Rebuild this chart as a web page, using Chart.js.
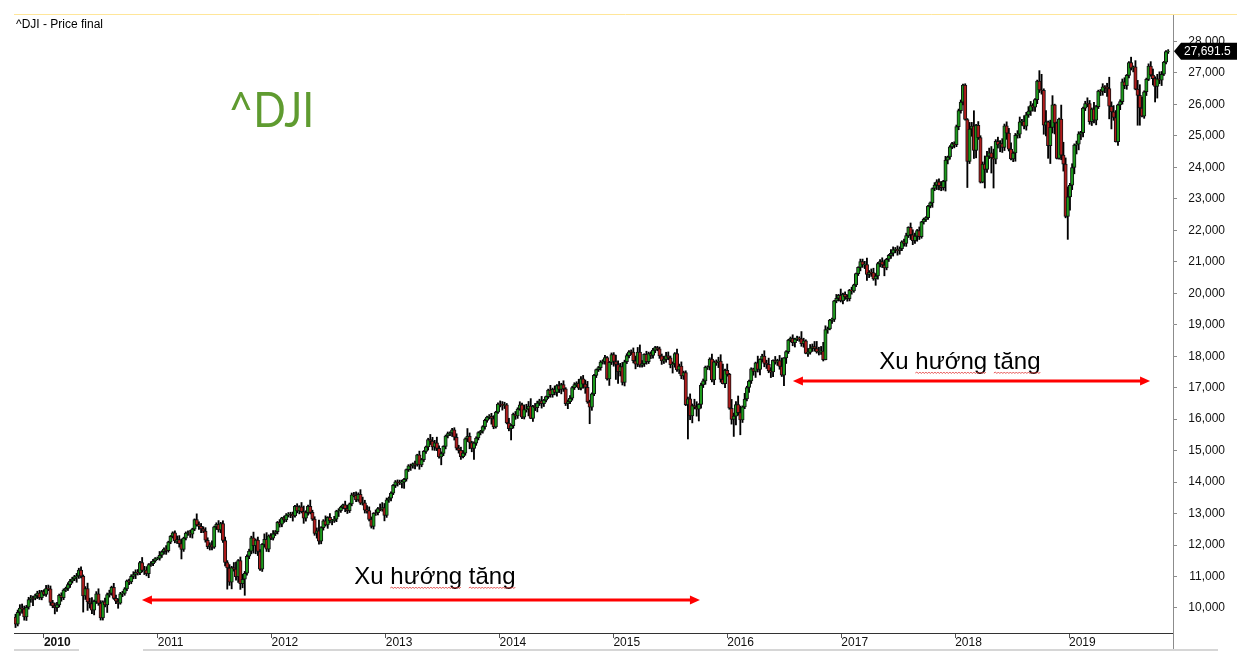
<!DOCTYPE html>
<html>
<head>
<meta charset="utf-8">
<title>^DJI - Price final</title>
<script src="https://cdn.jsdelivr.net/npm/chart.js@4.4.1/dist/chart.umd.min.js"></script>
<style>
  html, body { margin: 0; padding: 0; background: #fff; }
  #wrap { width: 1237px; height: 670px; position: relative; }
</style>
</head>
<body>
<div id="wrap"><canvas id="djiChart"></canvas></div>
<script>
// --- DONNÉES : ^DJI hebdomadaire (clôture du vendredi), à partir du 2 oct. 2009 ---
const START_DATE = Date.UTC(2009, 9, 2);
const firstOpen = 9712;

const c2009 = [9488, 9865, 9996, 9972, 9713, 10023, 10270, 10318, 10310, 10389, 10472, 10329, 10520];
const c2010 = [10428, 10618, 10610, 10173, 10067, 10012, 10099, 10403, 10325, 10567, 10625, 10742, 10851,
  10927, 10997, 11019, 11204, 11009, 10380, 10620, 10193, 10137, 9931, 10212, 10450, 10144,
  9686, 10198, 10097, 10425, 10466, 10654, 10303, 10214, 10150, 10448, 10463, 10608, 10861,
  10830, 11006, 11063, 11133, 11118, 11445, 11193, 11204, 11092, 11382, 11411, 11492, 11573, 11578];
const c2011 = [11675, 11787, 11872, 11824, 12092, 12273, 12391, 12130, 12170, 12044, 11858, 12221,
  12377, 12380, 12342, 12505, 12811, 12639, 12596, 12513, 12442, 12151, 11952, 12004, 11934,
  12582, 12657, 12480, 12681, 12143, 11445, 11269, 10818, 11285, 11240, 10993, 11510, 10771, 10913,
  11103, 11645, 11809, 12231, 11983, 12154, 11796, 11231, 12020, 12184, 11866, 12294, 12218];
const c2012 = [12360, 12422, 12720, 12660, 12862, 12801, 12950, 12983, 12978, 12922, 13233, 13081, 13212,
  13060, 12850, 13029, 13229, 13038, 12821, 12369, 12455, 12119, 12554, 12767, 12640, 12880,
  12772, 12777, 12822, 13076, 13096, 13207, 13275, 13158, 13091, 13306, 13593, 13579, 13437,
  13610, 13328, 13343, 13107, 13093, 12815, 12588, 13010, 13026, 13155, 13135, 13190, 12938];
const c2013 = [13435, 13488, 13650, 13896, 14010, 13993, 13982, 14001, 14090, 14397, 14515, 14512, 14579,
  14565, 14865, 14547, 14712, 14974, 15118, 15354, 15303, 15116, 15248, 15070, 14799, 14910,
  15135, 15464, 15543, 15559, 15658, 15426, 15081, 15010, 14810, 14922, 15376, 15452, 15258,
  15073, 15237, 15400, 15570, 15615, 15762, 15962, 16065, 16086, 16020, 15755, 16221, 16479];
const c2014 = [16469, 16437, 16458, 15879, 15699, 15794, 16154, 16103, 16322, 16453, 16065, 16303, 16323,
  16412, 16027, 16409, 16361, 16513, 16583, 16491, 16606, 16717, 16924, 16776, 16947, 16851,
  17068, 16944, 17100, 16961, 16493, 16553, 16663, 17001, 17098, 17138, 16988, 17280, 17113,
  17010, 16544, 16380, 16805, 17391, 17574, 17635, 17810, 17828, 17959, 17281, 17805, 18054];
const c2015 = [17833, 17737, 17511, 17673, 17165, 17825, 18019, 18140, 18133, 17856, 17749, 18128, 17713,
  17763, 18058, 17826, 18080, 18024, 18191, 18272, 18232, 18011, 17849, 17898, 18015, 17947,
  17730, 17760, 18086, 17568, 17690, 17373, 17477, 16460, 16643, 16102, 16433, 16385, 16315,
  16472, 17084, 17216, 17647, 17664, 17910, 17245, 17824, 17798, 17848, 17265, 17128, 17553];
const c2016 = [17425, 16347, 15988, 16094, 16466, 16205, 15974, 16392, 16640, 17007, 17213, 17602, 17515,
  17793, 17577, 17898, 18004, 17774, 17740, 17535, 17501, 17873, 17807, 17865, 17675, 17400,
  17949, 18147, 18516, 18571, 18432, 18544, 18577, 18553, 18395, 18492, 18086, 18124, 18262, 18308,
  18240, 18138, 18146, 18161, 17888, 18847, 18868, 19152, 19171, 19757, 19843, 19934, 19763];
const c2017 = [19964, 19886, 19827, 20094, 20071, 20269, 20624, 20822, 21006, 20903, 20915, 20597, 20663,
  20656, 20453, 20548, 20941, 21007, 20897, 20805, 21080, 21206, 21272, 21384, 21395, 21350,
  21414, 21638, 21580, 21830, 22093, 21858, 21675, 21814, 21988, 21798, 22268, 22350, 22405,
  22774, 22871, 23329, 23435, 23539, 23422, 23358, 23558, 24231, 24329, 24652, 24754, 24719];
const c2018 = [25296, 25803, 26072, 26617, 25521, 24191, 25219, 25310, 24538, 25336, 24947, 23533, 24103,
  23933, 24360, 24463, 24311, 24263, 24831, 24715, 24753, 24635, 25317, 25090, 24581, 24271,
  24456, 25019, 25058, 25451, 25463, 25313, 25669, 25790, 25965, 25917, 26155, 26744, 26458,
  26447, 25340, 25444, 24688, 25271, 25989, 25413, 24286, 25538, 24389, 24101, 22445, 23062];
const c2019 = [23433, 23996, 24706, 24737, 25064, 25106, 25883, 26031, 26026, 25450, 25849, 25502, 25929,
  26425, 26412, 26559, 26543, 26505, 25942, 25764, 25586, 24815, 25984, 26090, 26719, 26600,
  26922, 27332, 27154, 27192, 26485, 26287, 25886, 25629, 26403, 26797, 27220, 26935, 26820,
  26573, 26817, 26770, 26958, 27347, 27681, 27691.5];

// Mèches : points au-dessus du corps (haut) et en dessous (bas)
const wickUp = [
  90,70,110,130,90,60,70,80,60,50,60,90,40,
  60,100,110,90,70,90,80,40,80,40,40,60,60,50,40,80,60,100,40,60,170,120,190,40,70,160,90,30,120,50,100,40,130,110,80,50,70,40,30,60,50,90,80,90,40,160,120,110,30,60,50,30,40,
  120,30,40,110,30,30,30,60,120,130,150,30,40,70,90,30,20,180,100,90,70,110,80,70,130,20,50,120,40,90,110,60,110,40,160,220,30,110,160,60,40,60,50,180,40,100,60,30,170,210,30,70,
  100,40,30,90,20,60,50,50,60,70,30,80,40,140,180,60,40,200,70,80,90,340,30,40,160,20,120,40,90,30,60,30,30,120,110,30,60,80,110,50,150,180,80,150,120,80,20,90,40,150,160,130,
  60,40,40,30,40,60,70,60,30,20,40,60,30,90,20,120,40,30,30,40,160,120,80,180,80,50,20,30,50,40,50,70,110,90,100,80,30,250,110,40,40,40,30,30,30,40,30,60,100,90,30,40,
  100,90,80,40,150,40,40,90,40,100,60,150,150,150,240,30,90,60,50,140,20,20,30,150,40,110,30,130,40,120,40,60,90,40,60,50,130,70,110,130,190,60,30,30,20,40,50,60,70,30,30,50,
  60,200,120,100,130,50,60,40,60,130,150,150,230,100,20,100,50,60,60,40,40,60,60,100,110,120,60,60,30,140,60,130,50,60,60,160,50,200,170,20,60,60,40,30,40,160,30,60,120,200,485,40,
  200,30,280,100,90,270,210,30,180,40,30,30,20,20,210,20,60,170,100,200,100,10,120,40,160,270,10,30,20,40,110,30,60,40,230,80,30,120,110,80,160,230,140,150,280,120,60,20,40,20,120,30,200,
  40,80,70,30,100,20,20,20,80,80,100,200,60,110,140,80,40,60,120,160,30,30,120,90,60,110,60,30,80,80,20,140,160,100,40,120,20,40,30,20,30,20,80,70,100,130,30,120,30,40,40,60,
  50,50,70,30,40,30,210,120,490,30,120,60,70,260,150,150,200,270,50,130,100,160,60,130,150,200,40,60,110,150,60,180,80,140,130,60,30,30,330,500,50,360,30,230,290,20,30,30,442,410,200,320,
  60,120,40,100,70,40,30,70,180,100,40,220,40,30,50,100,40,130,360,140,200,220,30,60,90,130,30,30,170,30,200,280,340,350,30,40,70,140,190,60,140,220,90,20,30,50
];
const wickDn = [
  110,60,100,140,100,110,60,90,240,50,90,60,70,
  40,60,60,90,60,200,120,70,110,60,50,70,90,60,60,180,80,50,510,110,270,140,110,150,70,60,70,70,60,240,80,60,30,80,160,30,90,60,60,90,60,80,130,70,60,50,130,70,130,60,70,40,40,
  60,70,80,120,50,50,50,60,80,110,300,60,60,70,100,120,50,40,100,120,50,60,70,110,90,40,90,70,90,60,110,670,100,210,70,110,180,180,130,510,60,80,90,240,260,130,40,70,90,70,80,50,
  60,60,70,90,80,80,60,60,110,160,40,60,90,40,160,90,80,50,40,60,150,90,80,80,40,110,70,130,60,80,170,60,60,100,90,60,60,50,60,50,40,60,90,80,50,50,80,70,70,50,60,170,
  60,80,90,50,70,120,60,170,200,60,60,140,70,150,60,140,60,60,60,100,110,100,110,70,40,250,70,80,60,70,110,90,60,90,90,40,70,90,200,110,350,70,60,70,60,80,60,60,180,60,40,40,
  80,150,100,30,70,360,80,110,80,40,50,60,80,220,10,100,90,130,80,140,90,60,60,80,80,80,120,100,140,80,60,160,60,60,60,70,50,60,130,190,40,525,100,60,70,60,80,60,80,40,210,70,
  150,475,375,140,80,110,60,70,80,70,150,80,60,60,90,80,60,100,90,80,60,80,110,80,90,60,100,265,110,50,120,90,110,30,1090,120,220,60,220,373,120,80,110,70,100,60,150,90,160,90,10,130,
  60,33,146,537,280,80,471,80,60,60,160,80,120,190,80,170,80,110,130,60,180,150,60,100,90,45,337,180,60,60,100,140,50,80,80,110,10,94,60,110,80,40,100,90,40,5,120,30,110,70,60,90,40,
  100,80,80,70,100,40,60,60,110,80,120,190,100,120,40,200,100,100,80,250,60,70,100,90,100,140,110,60,80,90,60,150,130,90,160,90,50,70,70,60,60,140,70,140,140,100,80,310,120,70,60,100,
  60,100,80,90,20,831,70,230,256,235,60,30,24,588,90,80,490,919,150,100,220,160,100,200,60,30,90,260,90,120,120,90,130,80,140,130,140,130,80,120,288,340,400,566,180,350,18,26,146,220,48,732,
  424,140,200,280,180,180,140,80,100,80,120,90,150,60,130,120,170,250,400,542,90,10,120,150,80,100,120,80,60,120,20,948,547,28,70,120,40,40,200,495,371,110,170,40,60,60
];

const yTicks = [10000, 11000, 12000, 13000, 14000, 15000, 16000, 17000, 18000, 19000,
  20000, 21000, 22000, 23000, 24000, 25000, 26000, 27000, 28000];
const yearLabels = ['2010', '2011', '2012', '2013', '2014', '2015', '2016', '2017', '2018', '2019'];

// --- Construction des bougies ---
const UP_COLOR = '#1c9a1c';
const DOWN_COLOR = '#b01c1c';
const closes = [].concat(c2009, c2010, c2011, c2012, c2013, c2014, c2015, c2016, c2017, c2018, c2019);
const opens = closes.map((c, i) => (i === 0 ? firstOpen : closes[i - 1]));
const bodies = closes.map((c, i) => ({ x: i, y: [opens[i], c] }));
const wicks = closes.map((c, i) => ({
  x: i,
  y: [Math.min(opens[i], c) - (wickDn[i] || 0), Math.max(opens[i], c) + (wickUp[i] || 0)]
}));
const bodyColors = closes.map((c, i) => (c >= opens[i] ? UP_COLOR : DOWN_COLOR));

// position (en semaines) du 1er janvier de chaque année
const yearTickValues = yearLabels.map(y => (Date.UTC(+y, 0, 1) - START_DATE) / 864e5 / 7);

// Annotations "Xu hướng tăng" (x = semaine, y = points)
const trends = [
  { from: 57.9, to: 313.5, level: 10253, textAt: 192.1, textLevel: 11016 },
  { from: 356.1, to: 519.7, level: 17212, textAt: 432.6, textLevel: 17847 }
];

function drawArrow(ctx, x0, x1, y) {
  ctx.strokeStyle = '#ff0000';
  ctx.fillStyle = '#ff0000';
  ctx.lineWidth = 3;
  ctx.beginPath();
  ctx.moveTo(x0 + 8, y);
  ctx.lineTo(x1 - 8, y);
  ctx.stroke();
  ctx.beginPath();
  ctx.moveTo(x0, y); ctx.lineTo(x0 + 10, y - 4.5); ctx.lineTo(x0 + 10, y + 4.5); ctx.closePath();
  ctx.fill();
  ctx.beginPath();
  ctx.moveTo(x1, y); ctx.lineTo(x1 - 10, y - 4.5); ctx.lineTo(x1 - 10, y + 4.5); ctx.closePath();
  ctx.fill();
}

function drawWavy(ctx, x0, x1, y) {
  ctx.strokeStyle = '#e03030';
  ctx.lineWidth = 0.8;
  ctx.beginPath();
  let up = true;
  ctx.moveTo(x0, y);
  for (let x = x0 + 1.5; x <= x1; x += 1.5) {
    ctx.lineTo(x, up ? y - 1 : y + 0.5);
    up = !up;
  }
  ctx.stroke();
}

const decorPlugin = {
  id: 'decor',
  afterDraw(chart) {
    const ctx = chart.ctx;
    const xs = chart.scales.x;
    const ys = chart.scales.y;
    const area = chart.chartArea;
    ctx.save();

    // ligne jaune en haut
    ctx.strokeStyle = '#ffe699';
    ctx.lineWidth = 1;
    ctx.beginPath(); ctx.moveTo(area.left, 14.5); ctx.lineTo(chart.width, 14.5); ctx.stroke();

    // prolongement de l'axe vertical + barre grise en bas
    ctx.strokeStyle = '#8c8c8c';
    ctx.beginPath(); ctx.moveTo(area.right + 0.5, area.bottom); ctx.lineTo(area.right + 0.5, 649); ctx.stroke();
    ctx.strokeStyle = '#d6d6d6';
    ctx.lineWidth = 2;
    ctx.beginPath();
    ctx.moveTo(area.left, 650); ctx.lineTo(79, 650);
    ctx.moveTo(143, 650); ctx.lineTo(1218, 650);
    ctx.stroke();

    // titre
    ctx.fillStyle = '#000';
    ctx.font = '12px "Liberation Sans", Arial, sans-serif';
    ctx.textAlign = 'left';
    ctx.textBaseline = 'alphabetic';
    ctx.fillText('^DJI - Price final', 16, 28);

    // grand libellé ^DJI
    ctx.font = '49px Lato, "Open Sans", sans-serif';
    const m = ctx.measureText('^DJI');
    const inkW = m.actualBoundingBoxLeft + m.actualBoundingBoxRight;
    ctx.save();
    ctx.translate(231, 127);
    ctx.scale(80 / inkW, 1);
    ctx.fillStyle = '#5f9b30';
    ctx.fillText('^DJI', m.actualBoundingBoxLeft, 0);
    ctx.restore();

    // flèches de tendance
    trends.forEach(t => {
      const y = Math.round(ys.getPixelForValue(t.level));
      drawArrow(ctx, xs.getPixelForValue(t.from), xs.getPixelForValue(t.to), y);
      ctx.font = '24px "Liberation Sans", Arial, sans-serif';
      ctx.fillStyle = '#000';
      const label = 'Xu hướng tăng';
      const w = ctx.measureText(label).width;
      const cx = xs.getPixelForValue(t.textAt);
      const cy = ys.getPixelForValue(t.textLevel);
      const left = cx - w / 2;
      ctx.textAlign = 'left';
      ctx.textBaseline = 'alphabetic';
      const base = cy + 8;
      ctx.fillText(label, left, base);
      const wXu = ctx.measureText('Xu ').width;
      const wHuong = ctx.measureText('Xu hướng').width;
      const wSp = ctx.measureText('Xu hướng ').width;
      drawWavy(ctx, left + wXu, left + wHuong, base + 4);
      drawWavy(ctx, left + wSp, left + w, base + 4);
    });

    // étiquette du dernier cours
    const last = closes[closes.length - 1];
    const py = ys.getPixelForValue(last);
    const tipX = area.right + 1;
    ctx.fillStyle = '#000';
    ctx.beginPath();
    ctx.moveTo(tipX, py);
    ctx.lineTo(tipX + 7, py - 8.5);
    ctx.lineTo(chart.width, py - 8.5);
    ctx.lineTo(chart.width, py + 8.5);
    ctx.lineTo(tipX + 7, py + 8.5);
    ctx.closePath();
    ctx.fill();
    ctx.fillStyle = '#fff';
    ctx.font = '12px "Liberation Sans", Arial, sans-serif';
    ctx.textBaseline = 'middle';
    ctx.fillText(last.toLocaleString('en-US', { minimumFractionDigits: 1 }), tipX + 10, py + 0.5);

    ctx.restore();
  }
};

Chart.defaults.font.family = '"Liberation Sans", Arial, sans-serif';
Chart.defaults.font.size = 12;
Chart.defaults.color = '#111';

const ctx = document.getElementById('djiChart').getContext('2d');
new Chart(ctx, {
  type: 'bar',
  data: {
    datasets: [
      {
        label: 'Corps',
        data: bodies,
        backgroundColor: bodyColors,
        borderColor: '#111',
        borderWidth: 1,
        borderSkipped: false,
        barThickness: 3.4,
        grouped: false,
        order: 1
      },
      {
        label: 'Mèches',
        data: wicks,
        backgroundColor: '#000',
        borderWidth: 0,
        barThickness: 1.2,
        grouped: false,
        order: 2
      }
    ]
  },
  options: {
    responsive: true,
    maintainAspectRatio: false,
    animation: false,
    layout: { padding: { left: 14, top: 15, right: 12, bottom: 0 } },
    plugins: { legend: { display: false }, tooltip: { enabled: false }, title: { display: false } },
    scales: {
      x: {
        type: 'linear',
        position: 'bottom',
        offset: false,
        min: -0.7,
        max: 530.2,
        afterBuildTicks: scale => { scale.ticks = yearTickValues.map(v => ({ value: v })); },
        afterFit: scale => { scale.height = 37; },
        grid: { display: true, offset: false, drawOnChartArea: false, drawTicks: true, tickLength: 5, color: '#555' },
        border: { display: true, color: '#333', width: 1 },
        ticks: {
          autoSkip: false,
          maxRotation: 0,
          align: 'start',
          padding: -3,
          color: '#111',
          font: c => ({ size: 12, weight: c.index === 0 ? 'bold' : 'normal' }),
          callback: (v, i) => yearLabels[i]
        }
      },
      y: {
        type: 'linear',
        position: 'right',
        min: 9205,
        max: 28842,
        afterBuildTicks: scale => { scale.ticks = yTicks.map(v => ({ value: v })); },
        afterFit: scale => { scale.width = 52; },
        grid: { display: true, drawOnChartArea: false, drawTicks: true, tickLength: 4, color: '#8c8c8c' },
        border: { display: true, color: '#8c8c8c', width: 1 },
        ticks: {
          crossAlign: 'far',
          color: '#111',
          callback: v => v.toLocaleString('en-US')
        }
      }
    }
  },
  plugins: [decorPlugin]
});
</script>
</body>
</html>
